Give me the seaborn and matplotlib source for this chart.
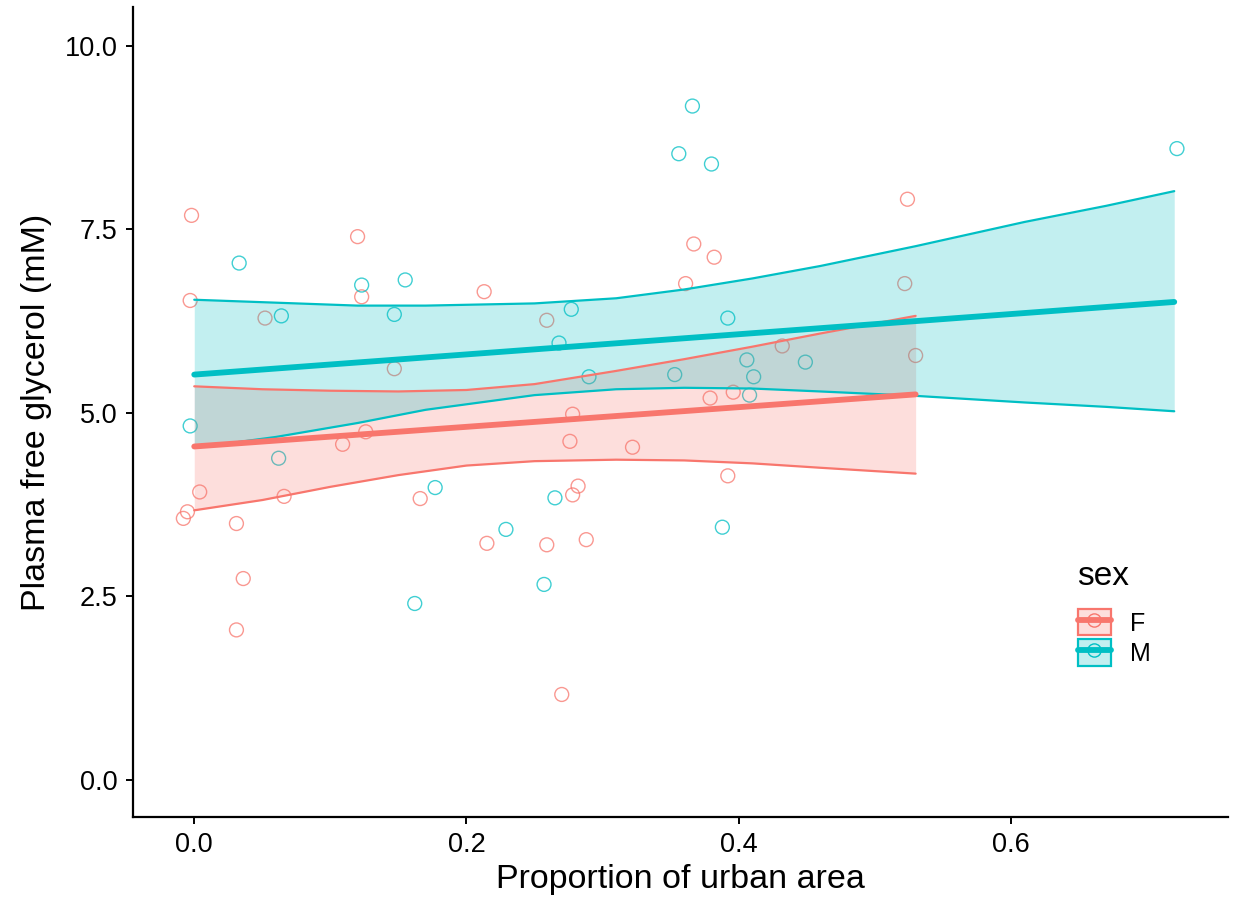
import numpy as np
import matplotlib
matplotlib.use("Agg")
import matplotlib.pyplot as plt
from matplotlib.patches import Patch
from matplotlib.lines import Line2D
from matplotlib.ticker import FormatStrFormatter
import seaborn as sns

# ---- data ----
sexes = ["F", "M"]
colors = {"F": "#F8766D", "M": "#00BFC4"}

f_x = [-0.002, -0.003, 0.052, 0.120, 0.123, 0.147, 0.213, 0.109, 0.126, 0.004,
       -0.005, -0.008, 0.031, 0.066, 0.036, 0.031, 0.166, 0.215, 0.524, 0.367,
       0.382, 0.361, 0.522, 0.259, 0.432, 0.530, 0.396, 0.379, 0.278, 0.276,
       0.322, 0.392, 0.282, 0.278, 0.259, 0.288, 0.270]
f_y = [7.69, 6.53, 6.29, 7.40, 6.58, 5.60, 6.65, 4.57, 4.74, 3.92,
       3.65, 3.56, 3.49, 3.86, 2.74, 2.04, 3.83, 3.22, 7.91, 7.30,
       7.12, 6.76, 6.76, 6.26, 5.91, 5.78, 5.28, 5.20, 4.98, 4.61,
       4.53, 4.14, 4.00, 3.88, 3.20, 3.27, 1.16]

m_x = [0.033, 0.064, 0.123, 0.155, 0.147, -0.003, 0.062, 0.177, 0.162, 0.229,
       0.366, 0.356, 0.380, 0.277, 0.392, 0.268, 0.406, 0.449, 0.290, 0.353,
       0.411, 0.408, 0.265, 0.388, 0.257, 0.722]
m_y = [7.04, 6.32, 6.74, 6.81, 6.34, 4.82, 4.38, 3.98, 2.40, 3.41,
       9.18, 8.53, 8.39, 6.41, 6.29, 5.95, 5.72, 5.69, 5.49, 5.52,
       5.49, 5.24, 3.84, 3.44, 2.66, 8.60]

# fitted line endpoints and confidence band
f_fit_x = [0.0, 0.53]
f_fit_y = [4.54, 5.25]
f_band_x = [0.0, 0.05, 0.10, 0.15, 0.20, 0.25, 0.31, 0.36, 0.41, 0.46, 0.53]
f_band_lo = [3.67, 3.81, 3.99, 4.15, 4.28, 4.34, 4.36, 4.35, 4.31, 4.25, 4.17]
f_band_hi = [5.36, 5.32, 5.30, 5.29, 5.31, 5.39, 5.57, 5.73, 5.90, 6.08, 6.32]

m_fit_x = [0.0, 0.72]
m_fit_y = [5.52, 6.51]
m_band_x = [0.0, 0.06, 0.12, 0.17, 0.25, 0.31, 0.36, 0.41, 0.46, 0.53, 0.61, 0.67, 0.72]
m_band_lo = [4.52, 4.67, 4.86, 5.04, 5.24, 5.32, 5.34, 5.33, 5.29, 5.23, 5.14, 5.08, 5.02]
m_band_hi = [6.54, 6.50, 6.46, 6.46, 6.49, 6.56, 6.68, 6.83, 7.00, 7.27, 7.60, 7.82, 8.02]

x_ticks = [0.0, 0.2, 0.4, 0.6]
y_ticks = [0.0, 2.5, 5.0, 7.5, 10.0]

points = {"F": (f_x, f_y), "M": (m_x, m_y)}
fits = {"F": (f_fit_x, f_fit_y), "M": (m_fit_x, m_fit_y)}
bands = {"F": (f_band_x, f_band_lo, f_band_hi), "M": (m_band_x, m_band_lo, m_band_hi)}

# ---- figure ----
sns.set_style("white")
plt.rcParams["font.family"] = ["Liberation Sans", "DejaVu Sans"]
plt.rcParams["text.color"] = "black"
plt.rcParams["axes.labelcolor"] = "black"

W, H = 1233, 911
fig = plt.figure(figsize=(W / 100, H / 100), dpi=100)
ax = fig.add_axes([133 / W, 1 - 817 / H, (1228 - 133) / W, (817 - 7) / H])

# points
for s in sexes:
    px, py = points[s]
    sns.scatterplot(x=px, y=py, ax=ax, marker="o", s=100, facecolors="none",
                    edgecolor=colors[s], linewidth=1.0, alpha=0.75, zorder=2)

# bands and fitted lines
for s in sexes:
    bx, lo, hi = bands[s]
    ax.fill_between(bx, lo, hi, color=colors[s], alpha=0.24, lw=0, zorder=3)
    sns.lineplot(x=bx, y=lo, ax=ax, color=colors[s], linewidth=1.6, zorder=4)
    sns.lineplot(x=bx, y=hi, ax=ax, color=colors[s], linewidth=1.6, zorder=4)
for s in sexes:
    fx, fy = fits[s]
    sns.lineplot(x=fx, y=fy, ax=ax, color=colors[s], linewidth=4.2, zorder=5)

ax.set_xlim(-0.045, 0.7595)
ax.set_ylim(-0.51, 10.53)
ax.set_xticks(x_ticks)
ax.set_yticks(y_ticks)
ax.xaxis.set_major_formatter(FormatStrFormatter("%.1f"))
ax.yaxis.set_major_formatter(FormatStrFormatter("%.1f"))

for side in ["top", "right"]:
    ax.spines[side].set_visible(False)
for side in ["left", "bottom"]:
    ax.spines[side].set_color("black")
    ax.spines[side].set_linewidth(1.6)
ax.tick_params(axis="both", which="major", length=5, width=1.4, color="black",
               labelsize=19.5, labelcolor="black", pad=6, direction="out",
               bottom=True, left=True)

ax.set_xlabel("Proportion of urban area", fontsize=24.5, labelpad=4, color="black")
ax.set_ylabel("Plasma free glycerol (mM)", fontsize=24.5, labelpad=9, color="black")

# legend
fig.text(1077 / W, 1 - 585 / H, "sex", fontsize=24, ha="left", va="baseline",
         color="black")
handles = []
for s in sexes:
    patch = Patch(facecolor=colors[s], alpha=0.24, edgecolor="none")
    edge = Patch(facecolor="none", edgecolor=colors[s], linewidth=1.6)
    line = Line2D([], [], color=colors[s], linewidth=4.2, marker="o", markersize=9.5,
                  markerfacecolor="none", markeredgecolor=colors[s], markeredgewidth=1.0)
    handles.append((patch, edge, line))
leg = fig.legend(handles, sexes, loc="upper left",
                 bbox_to_anchor=(1078 / W, 1 - 609 / H), frameon=False,
                 fontsize=18, handlelength=1.3, handleheight=1.25,
                 labelspacing=0.15, handletextpad=0.8, borderpad=0,
                 borderaxespad=0, labelcolor="black")

fig.savefig("out.png", dpi=100)
